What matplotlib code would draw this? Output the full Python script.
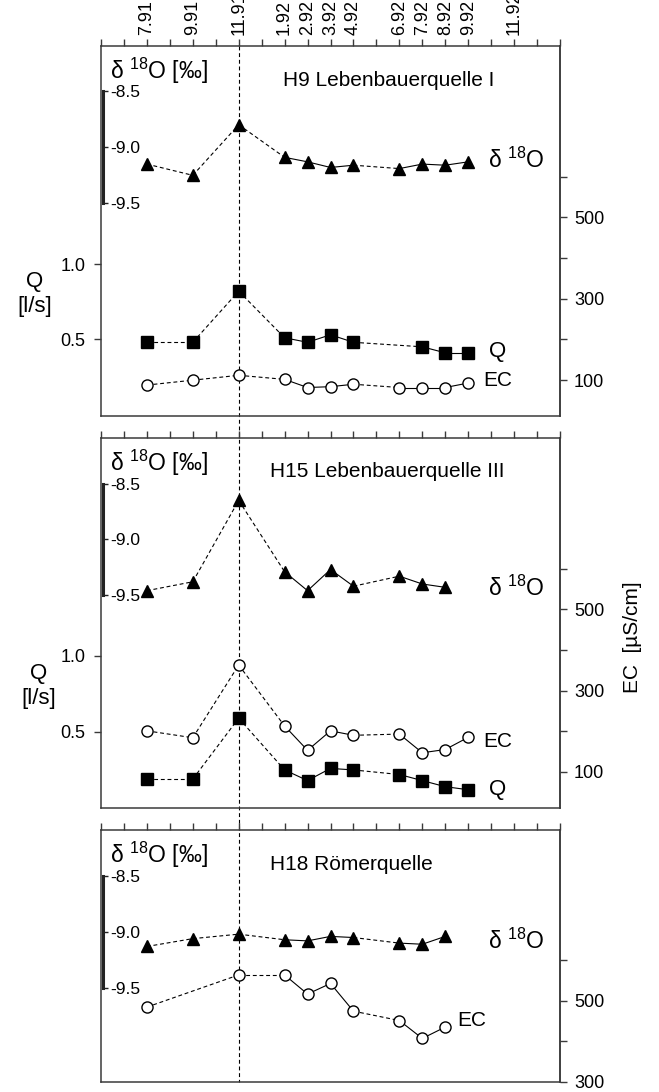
import numpy as np
import matplotlib.pyplot as plt
from matplotlib import transforms

plt.rcParams['font.family'] = ['Liberation Sans', 'DejaVu Sans']
plt.rcParams['mathtext.fontset'] = 'custom'
plt.rcParams['mathtext.rm'] = 'Liberation Sans'
plt.rcParams['mathtext.it'] = 'Liberation Sans:italic'
plt.rcParams['axes.unicode_minus'] = False

# sampling dates (month.year)
dates = ['7.91', '9.91', '11.91', '1.92', '2.92', '3.92', '4.92', '6.92', '7.92', '8.92', '9.92']
tick_labels = ['7.91', '9.91', '11.91', '1.92', '2.92', '3.92', '4.92', '6.92', '7.92', '8.92', '9.92', '11.92']
event_date = '11.91'

# H9 Lebenbauerquelle I
h9_d18o = [-9.15, -9.25, -8.80, -9.09, -9.13, -9.18, -9.16, -9.19, -9.15, -9.16, -9.13]
h9_q = [0.48, 0.48, 0.82, 0.51, 0.48, 0.53, 0.48, None, 0.45, 0.41, 0.41]
h9_ec = [88, 100, 112, 102, 82, 84, 90, 82, 82, 82, 93]

# H15 Lebenbauerquelle III
h15_d18o = [-9.46, -9.38, -8.65, -9.29, -9.46, -9.27, -9.42, -9.33, -9.40, -9.43, None]
h15_q = [0.19, 0.19, 0.59, 0.25, 0.18, 0.26, 0.25, 0.22, 0.18, 0.14, 0.12]
h15_ec = [201, 184, 363, 213, 153, 201, 190, 193, 147, 155, 185]

# H18 Roemerquelle
h18_d18o = [-9.13, -9.06, -9.02, -9.07, -9.08, -9.04, -9.05, -9.10, -9.11, -9.04, None]
h18_ec = [484, None, 563, 563, 516, 542, 474, 451, 407, 435, None]


def month_index(s):
    # months counted from May 1991
    m, y = s.split('.')
    return (int(y) - 91) * 12 + int(m) - 5


x = np.array([month_index(d) for d in dates])
W, H = 659, 1092
edge = '#3a3a3a'


def series(ax, vals, marker, filled=True, ms=8):
    y = np.array([np.nan if v is None else v for v in vals], dtype=float)
    ok = ~np.isnan(y)
    xs, ys = x[ok], y[ok]
    for i in range(len(xs) - 1):
        ls = '-' if xs[i + 1] - xs[i] == 1 else (0, (3.5, 2.5))
        ax.plot(xs[i:i + 2], ys[i:i + 2], color='black', lw=0.8, ls=ls, zorder=2)
    ax.plot(xs, ys, ls='none', marker=marker, ms=ms,
            mfc='black' if filled else 'white', mec='black', mew=1.0, zorder=3)


def panel(top, bottom, q_lim, ec_lim, d_lim, ec_major, ec_minor, top_labels):
    rect = [101 / W, 1 - bottom / H, 459 / W, (bottom - top) / H]
    ax = fig.add_axes(rect)
    ax.patch.set_visible(False)
    ax.set_xlim(0, 20)
    ax.set_xticks(range(21))
    ax.xaxis.tick_top()
    lab = {month_index(t): t for t in tick_labels}
    ax.set_xticklabels([lab.get(i, '') for i in range(21)], rotation=90, fontsize=13)
    ax.tick_params(axis='x', top=True, bottom=False, direction='out', length=5,
                   width=1, color=edge, labeltop=top_labels, labelbottom=False, pad=3)
    for s in ax.spines.values():
        s.set_color(edge)
        s.set_linewidth(1.1)

    ax_ec = ax.twinx()
    ax_ec.set_ylim(*ec_lim)
    ax_ec.set_yticks(ec_major)
    ax_ec.set_yticks(ec_minor, minor=True)
    ax_ec.tick_params(axis='y', which='both', direction='out', length=5, width=1,
                      color=edge, labelsize=13, pad=5)
    for k in ['left', 'top', 'bottom']:
        ax_ec.spines[k].set_visible(False)
    ax_ec.spines['right'].set_color(edge)
    ax_ec.spines['right'].set_linewidth(1.1)

    ax_d = ax.twinx()
    ax_d.set_ylim(*d_lim)
    for k in ['left', 'top', 'bottom']:
        ax_d.spines[k].set_visible(False)
    sp = ax_d.spines['right']
    sp.set_position(('axes', 0.004))
    sp.set_bounds(-9.5, -8.5)
    sp.set_linewidth(2.2)
    sp.set_color('#222222')
    ax_d.set_yticks([-8.5, -9.0, -9.5])
    ax_d.set_yticklabels(['-8.5', '-9.0', '-9.5'])
    ax_d.tick_params(axis='y', direction='out', length=3.5, width=1, color='#222222',
                     labelsize=12.5, pad=1.5)

    if q_lim is not None:
        ax.set_ylim(*q_lim)
        ax.set_yticks([0.5, 1.0])
        ax.set_yticklabels(['0.5', '1.0'])
        ax.tick_params(axis='y', direction='out', length=5, width=1, color=edge,
                       labelsize=13, pad=6)
    else:
        ax.set_yticks([])

    ax.text(0.02, 0.933 if q_lim is not None else 0.9, '\u03b4 $^{18}$O [\u2030]',
            transform=ax.transAxes, fontsize=16.5, va='center', ha='left')
    return ax, ax_ec, ax_d


fig = plt.figure(figsize=(W / 100, H / 100), dpi=100)

# panel 1
ax1, ec1, d1 = panel(46, 416, (-0.01, 2.45), (12, 921), (-11.39, -8.10),
                     [100, 300, 500], [200, 400, 600], True)
series(ec1, h9_ec, 'o', filled=False)
series(ax1, h9_q, 's')
series(d1, h9_d18o, '^', ms=8.5)
ax1.text(0.397, 0.906, 'H9 Lebenbauerquelle I', transform=ax1.transAxes, fontsize=15, va='center')
ax1.text(0.843, 0.692, '\u03b4 $^{18}$O', transform=ax1.transAxes, fontsize=16.5, va='center')
ax1.text(0.846, 0.173, 'Q', transform=ax1.transAxes, fontsize=16, va='center')
ax1.text(0.832, 0.095, 'EC', transform=ax1.transAxes, fontsize=15, va='center')
ax1.text(-0.145, 0.33, 'Q\n[l/s]', transform=ax1.transAxes, fontsize=16, va='center',
         ha='center', linespacing=1.3)

# panel 2
ax2, ec2, d2 = panel(438, 808, (0.0, 2.43), (11, 922), (-11.41, -8.09),
                     [100, 300, 500], [200, 400, 600], False)
series(ec2, h15_ec, 'o', filled=False)
series(ax2, h15_q, 's')
series(d2, h15_d18o, '^', ms=8.5)
ax2.text(0.368, 0.909, 'H15 Lebenbauerquelle III', transform=ax2.transAxes, fontsize=15, va='center')
ax2.text(0.843, 0.595, '\u03b4 $^{18}$O', transform=ax2.transAxes, fontsize=16.5, va='center')
ax2.text(0.832, 0.181, 'EC', transform=ax2.transAxes, fontsize=15, va='center')
ax2.text(0.846, 0.049, 'Q', transform=ax2.transAxes, fontsize=16, va='center')
ax2.text(-0.135, 0.33, 'Q\n[l/s]', transform=ax2.transAxes, fontsize=16, va='center',
         ha='center', linespacing=1.3)

# panel 3
ax3, ec3, d3 = panel(830, 1082, None, (300, 919), (-10.34, -8.09),
                     [300, 500], [400, 600], False)
series(ec3, h18_ec, 'o', filled=False)
series(d3, h18_d18o, '^', ms=8.5)
ax3.text(0.368, 0.864, 'H18 R\u00f6merquelle', transform=ax3.transAxes, fontsize=15, va='center')
ax3.text(0.843, 0.56, '\u03b4 $^{18}$O', transform=ax3.transAxes, fontsize=16.5, va='center')
ax3.text(0.776, 0.246, 'EC', transform=ax3.transAxes, fontsize=15, va='center')

fig.text(633 / W, 1 - 637 / H, 'EC  [\u00b5S/cm]', rotation=90, fontsize=15,
         ha='center', va='center')

# event line through all panels
xe = month_index(event_date)
tr = transforms.blended_transform_factory(ax1.transData, fig.transFigure)
ax1.plot([xe, xe], [1 - 46 / H, 1 - 1082 / H], transform=tr, clip_on=False,
         color='black', lw=0.8, ls=(0, (3.5, 2.5)), zorder=1)

fig.savefig('out.png', dpi=100, facecolor='white')
